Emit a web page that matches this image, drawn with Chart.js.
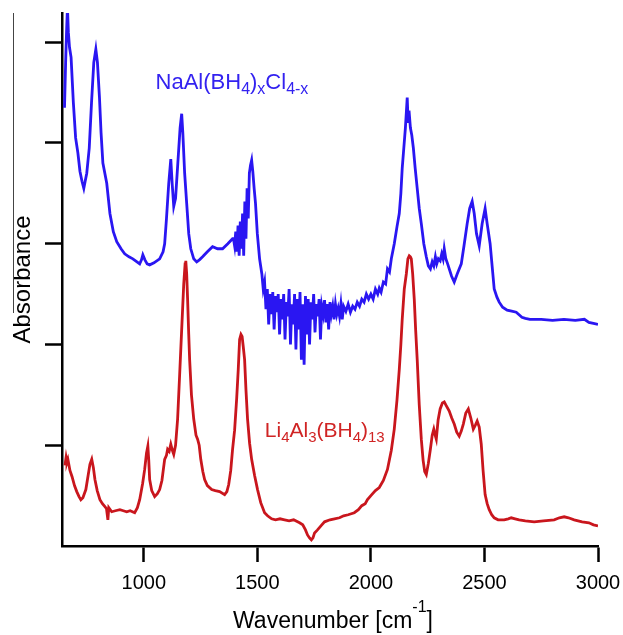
<!DOCTYPE html>
<html>
<head>
<meta charset="utf-8">
<script src="https://cdn.jsdelivr.net/npm/chart.js@4"></script>
<style>
  html, body { margin: 0; padding: 0; background: #fff; }
  canvas { display: block; }
</style>
</head>
<body>
<canvas id="chart" width="623" height="635"></canvas>
<script>
// IR spectra, [wavenumber (cm-1), absorbance (a.u.)]
const naAlSpectrum = [
  [651, 4.35], [656, 4.80], [660, 5.10], [664, 5.35], [668, 5.10], [673, 4.95], [680, 4.85],
  [690, 4.40], [700, 4.05], [710, 3.90], [719, 3.72], [728, 3.62], [736, 3.55], [742, 3.62],
  [749, 3.70], [760, 3.95], [770, 4.40], [780, 4.80], [789, 4.93], [796, 4.80], [805, 4.45],
  [812, 4.10], [820, 3.80], [837, 3.60], [851, 3.30], [866, 3.12], [881, 3.02], [900, 2.95],
  [916, 2.90], [935, 2.87], [952, 2.85], [970, 2.82], [982, 2.80], [990, 2.84], [996, 2.89],
  [1005, 2.84], [1015, 2.80], [1026, 2.79], [1045, 2.81], [1070, 2.85], [1085, 2.92],
  [1092, 3.00], [1100, 3.25], [1110, 3.60], [1119, 3.84], [1125, 3.60], [1132, 3.37],
  [1140, 3.45], [1150, 3.80], [1160, 4.15], [1167, 4.29], [1172, 4.10], [1180, 3.70],
  [1189, 3.40], [1198, 3.10], [1207, 2.95], [1220, 2.85], [1233, 2.82], [1245, 2.84],
  [1259, 2.87], [1280, 2.92], [1303, 2.97], [1325, 2.95], [1347, 2.95], [1370, 3.00],
  [1391, 3.05], [1395, 3.05], [1400, 2.98], [1405, 3.12], [1410, 2.92], [1415, 3.18],
  [1420, 2.88], [1425, 3.22], [1430, 2.95], [1435, 3.30], [1440, 2.88], [1445, 3.42],
  [1450, 3.05], [1455, 3.55], [1460, 3.25], [1465, 3.70], [1470, 3.78], [1475, 3.83],
  [1480, 3.72], [1486, 3.55], [1492, 3.40], [1500, 3.10], [1510, 2.85], [1520, 2.70],
  [1526, 2.55], [1532, 2.62], [1538, 2.35], [1544, 2.55], [1550, 2.20], [1556, 2.50],
  [1562, 2.30], [1568, 2.52], [1574, 2.15], [1580, 2.48], [1586, 2.32], [1592, 2.50],
  [1598, 2.10], [1604, 2.45], [1610, 2.25], [1616, 2.50], [1622, 2.05], [1628, 2.42],
  [1634, 2.28], [1640, 2.55], [1646, 2.00], [1652, 2.40], [1658, 2.20], [1664, 2.50],
  [1670, 1.95], [1676, 2.45], [1682, 2.15], [1688, 2.52], [1694, 1.85], [1700, 2.40],
  [1706, 1.80], [1712, 2.48], [1718, 2.10], [1724, 2.45], [1730, 2.00], [1736, 2.42],
  [1742, 2.25], [1748, 2.50], [1754, 2.12], [1760, 2.40], [1766, 2.28], [1772, 2.45],
  [1778, 2.05], [1784, 2.38], [1790, 2.30], [1796, 2.44], [1802, 2.22], [1808, 2.40],
  [1814, 2.15], [1820, 2.42], [1826, 2.30], [1832, 2.38], [1838, 2.25], [1844, 2.40],
  [1850, 2.30], [1856, 2.36], [1862, 2.28], [1868, 2.40], [1874, 2.25], [1880, 2.38],
  [1890, 2.33], [1900, 2.40], [1910, 2.32], [1920, 2.38], [1930, 2.35], [1940, 2.42],
  [1950, 2.38], [1960, 2.45], [1970, 2.42], [1980, 2.50], [1990, 2.45], [2000, 2.50],
  [2010, 2.45], [2020, 2.55], [2030, 2.50], [2037, 2.56], [2045, 2.52], [2055, 2.62],
  [2065, 2.60], [2073, 2.75], [2082, 2.72], [2090, 2.85], [2103, 3.00], [2115, 3.17],
  [2125, 3.30], [2132, 3.50], [2138, 3.75], [2145, 3.95], [2152, 4.15], [2156, 4.30],
  [2160, 4.45], [2164, 4.20], [2168, 4.32], [2174, 4.15], [2180, 4.08], [2187, 3.95],
  [2195, 3.75], [2204, 3.55], [2213, 3.35], [2222, 3.20], [2233, 3.00], [2244, 2.87],
  [2253, 2.78], [2262, 2.75], [2270, 2.82], [2277, 2.78], [2284, 2.87], [2290, 2.80],
  [2297, 2.85], [2305, 2.83], [2312, 2.90], [2318, 2.85], [2323, 2.95], [2330, 2.85],
  [2338, 2.80], [2345, 2.75], [2355, 2.68], [2367, 2.62], [2380, 2.70], [2398, 2.80],
  [2410, 2.98], [2424, 3.20], [2435, 3.35], [2446, 3.42], [2455, 3.30], [2465, 3.10],
  [2477, 2.98], [2490, 3.20], [2503, 3.35], [2512, 3.20], [2525, 3.00], [2535, 2.75],
  [2543, 2.55], [2555, 2.47], [2565, 2.42], [2580, 2.37], [2600, 2.34], [2620, 2.33],
  [2640, 2.32], [2655, 2.29], [2665, 2.27], [2680, 2.26], [2700, 2.25], [2750, 2.25],
  [2800, 2.24], [2850, 2.25], [2900, 2.24], [2940, 2.25], [2960, 2.22], [2980, 2.21],
  [3000, 2.20]
];

const liAlSpectrum = [
  [653, 0.80], [658, 0.88], [662, 0.83], [666, 0.86], [675, 0.75], [684, 0.69], [695, 0.60],
  [705, 0.54], [715, 0.49], [723, 0.46], [732, 0.48], [745, 0.56], [755, 0.70], [763, 0.81],
  [771, 0.86], [778, 0.78], [785, 0.66], [795, 0.55], [807, 0.46], [818, 0.42], [829, 0.39],
  [836, 0.37], [842, 0.26], [846, 0.38], [859, 0.34], [875, 0.35], [895, 0.36], [910, 0.35],
  [925, 0.34], [940, 0.35], [960, 0.33], [972, 0.38], [982, 0.46], [995, 0.62], [1004, 0.76],
  [1012, 0.92], [1018, 0.99], [1022, 0.85], [1026, 0.66], [1035, 0.55], [1048, 0.49],
  [1060, 0.52], [1070, 0.56], [1080, 0.65], [1092, 0.86], [1100, 0.90], [1105, 0.96],
  [1112, 0.94], [1119, 1.01], [1126, 0.95], [1132, 0.91], [1140, 1.00], [1149, 1.26],
  [1158, 1.70], [1167, 2.15], [1176, 2.60], [1182, 2.80], [1185, 2.83], [1189, 2.70],
  [1193, 2.45], [1198, 2.10], [1202, 1.85], [1210, 1.50], [1220, 1.26], [1230, 1.10],
  [1237, 1.06], [1244, 1.00], [1251, 0.86], [1260, 0.74], [1268, 0.66], [1280, 0.60],
  [1299, 0.56], [1315, 0.55], [1334, 0.54], [1356, 0.51], [1366, 0.54], [1374, 0.61],
  [1383, 0.75], [1391, 0.96], [1400, 1.15], [1409, 1.46], [1416, 1.75], [1422, 2.05],
  [1428, 2.10], [1433, 2.08], [1438, 1.98], [1444, 1.85], [1450, 1.55], [1457, 1.26],
  [1466, 1.02], [1475, 0.86], [1488, 0.70], [1501, 0.56], [1515, 0.43], [1532, 0.33],
  [1545, 0.30], [1563, 0.27], [1580, 0.26], [1600, 0.27], [1620, 0.26], [1640, 0.25],
  [1660, 0.26], [1686, 0.23], [1700, 0.21], [1712, 0.16], [1721, 0.11], [1730, 0.08],
  [1738, 0.06], [1745, 0.08], [1752, 0.13], [1765, 0.16], [1780, 0.20], [1796, 0.24],
  [1820, 0.26], [1840, 0.27], [1862, 0.28], [1880, 0.30], [1900, 0.31], [1927, 0.33],
  [1945, 0.36], [1960, 0.40], [1975, 0.42], [1985, 0.46], [2000, 0.50], [2020, 0.55],
  [2037, 0.58], [2055, 0.65], [2073, 0.76], [2090, 0.95], [2103, 1.16], [2115, 1.45],
  [2125, 1.75], [2132, 2.00], [2138, 2.25], [2147, 2.55], [2156, 2.70], [2163, 2.85],
  [2169, 2.88], [2174, 2.87], [2178, 2.85], [2184, 2.70], [2191, 2.45], [2197, 2.15],
  [2204, 1.85], [2213, 1.40], [2222, 1.06], [2230, 0.85], [2237, 0.74], [2244, 0.71],
  [2253, 0.82], [2262, 0.96], [2270, 1.10], [2277, 1.16], [2283, 1.10], [2288, 1.06],
  [2296, 1.25], [2305, 1.36], [2315, 1.42], [2323, 1.43], [2330, 1.40], [2345, 1.34],
  [2356, 1.27], [2367, 1.21], [2378, 1.13], [2389, 1.09], [2398, 1.14], [2407, 1.21],
  [2418, 1.32], [2429, 1.36], [2440, 1.27], [2451, 1.16], [2460, 1.20], [2468, 1.24],
  [2477, 1.18], [2486, 1.01], [2494, 0.75], [2503, 0.51], [2512, 0.42], [2521, 0.36],
  [2532, 0.31], [2543, 0.28], [2560, 0.26], [2587, 0.26], [2605, 0.27], [2618, 0.28],
  [2635, 0.27], [2653, 0.26], [2680, 0.25], [2719, 0.24], [2760, 0.25], [2807, 0.26],
  [2830, 0.28], [2851, 0.29], [2870, 0.28], [2895, 0.26], [2930, 0.24], [2960, 0.23],
  [2980, 0.21], [3000, 0.20]
];

const xTicks = [1000, 1500, 2000, 2500, 3000];
const yTicks = [1, 2, 3, 4, 5];

const FONT = "'Liberation Sans', Arial, sans-serif";
const BLUE = '#2a16f2';
const RED = '#c9161d';

// text with sub/superscripts, drawn on the canvas
function drawRich(ctx, x, y, parts, size, smallSize, color, center) {
  ctx.save();
  ctx.fillStyle = color;
  ctx.textBaseline = 'alphabetic';
  ctx.textAlign = 'left';
  let total = 0;
  parts.forEach(p => {
    ctx.font = (p[1] ? smallSize : size) + 'px ' + FONT;
    total += ctx.measureText(p[0]).width;
  });
  let cx = center ? x - total / 2 : x;
  parts.forEach(p => {
    ctx.font = (p[1] ? smallSize : size) + 'px ' + FONT;
    let dy = 0;
    if (p[1] === 'sub') dy = 5;
    if (p[1] === 'sup') dy = -size * 0.7;
    ctx.fillText(p[0], cx, y + dy);
    cx += ctx.measureText(p[0]).width;
  });
  ctx.restore();
}

const labelsPlugin = {
  id: 'labels',
  afterDraw(chart) {
    const ctx = chart.ctx;
    const xs = chart.scales.x, ys = chart.scales.y;
    drawRich(ctx, xs.getPixelForValue(1052), ys.getPixelForValue(4.54),
      [['NaAl(BH'], ['4', 'sub'], [')'], ['x', 'sub'], ['Cl'], ['4-x', 'sub']], 22, 16, '#3322f0');
    drawRich(ctx, xs.getPixelForValue(1533), ys.getPixelForValue(1.08),
      [['Li'], ['4', 'sub'], ['Al'], ['3', 'sub'], ['(BH'], ['4', 'sub'], [')'], ['13', 'sub']], 21, 15, '#d02424');
    // x axis title
    const area = chart.chartArea;
    drawRich(ctx, (area.left + area.right) / 2 + 3, xs.bottom - 7,
      [['Wavenumber [cm'], ['-1', 'sup'], [']']], 23, 16, '#000', true);
    // thin frame line at the far left
    ctx.save();
    ctx.strokeStyle = '#444';
    ctx.lineWidth = 1;
    ctx.beginPath();
    ctx.moveTo(13.5, area.top);
    ctx.lineTo(13.5, 313);
    ctx.stroke();
    ctx.restore();
  }
};

new Chart(document.getElementById('chart'), {
  type: 'line',
  data: {
    datasets: [
      {
        label: 'NaAl(BH4)xCl4-x',
        data: naAlSpectrum.map(p => ({ x: p[0], y: p[1] })),
        borderColor: BLUE,
        borderWidth: 2.8,
        pointRadius: 0,
        tension: 0
      },
      {
        label: 'Li4Al3(BH4)13',
        data: liAlSpectrum.map(p => ({ x: p[0], y: p[1] })),
        borderColor: RED,
        borderWidth: 2.8,
        pointRadius: 0,
        tension: 0
      }
    ]
  },
  options: {
    responsive: false,
    animation: false,
    devicePixelRatio: 1,
    layout: { padding: { top: 13, right: 25, left: 0, bottom: 0 } },
    plugins: { legend: { display: false }, tooltip: { enabled: false } },
    scales: {
      x: {
        type: 'linear',
        min: 640,
        max: 3000,
        afterBuildTicks: s => { s.ticks = xTicks.map(v => ({ value: v })); },
        afterFit: s => { s.height = 89; s.paddingLeft = 0; s.paddingRight = 0; },
        ticks: {
          font: { family: FONT, size: 20 },
          color: '#000',
          padding: 9,
          maxRotation: 0,
          callback: v => String(v)
        },
        grid: { drawOnChartArea: false, drawTicks: true, tickLength: 16, tickColor: '#000', tickWidth: 2.5 },
        border: { display: true, color: '#000', width: 2.5 }
      },
      y: {
        type: 'linear',
        min: 0,
        max: 5.29,
        afterBuildTicks: s => { s.ticks = yTicks.map(v => ({ value: v })); },
        afterFit: s => { s.width = 62; s.paddingTop = 0; s.paddingBottom = 0; },
        ticks: { callback: () => '' },
        grid: { drawOnChartArea: false, drawTicks: true, tickLength: 17, tickColor: '#000', tickWidth: 2.5 },
        border: { display: true, color: '#000', width: 2.5 },
        title: {
          display: true,
          text: 'Absorbance',
          color: '#000',
          font: { family: FONT, size: 24 },
          padding: { top: 9, bottom: 0 }
        }
      }
    }
  },
  plugins: [labelsPlugin]
});
</script>
</body>
</html>
